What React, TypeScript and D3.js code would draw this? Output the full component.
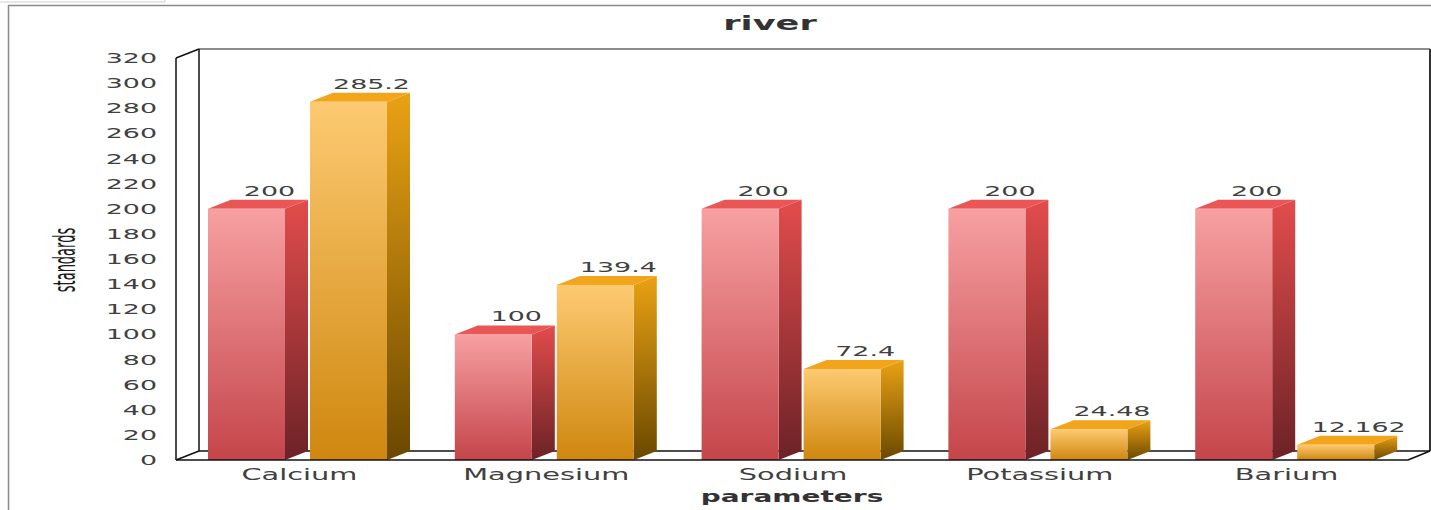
import React from "react";
import * as d3 from "d3";

const title = "river";
const xAxisTitle = "parameters";
const yAxisTitle = "standards";
const categories = ["Calcium", "Magnesium", "Sodium", "Potassium", "Barium"];
const seriesNames = ["standards", "river"];
const standardValues = [200, 100, 200, 200, 200];
const riverValues = [285.2, 139.4, 72.4, 24.48, 12.162];
const valueLabels = [
  ["200", "100", "200", "200", "200"],
  ["285.2", "139.4", "72.4", "24.48", "12.162"],
];
const yTicks = [0, 20, 40, 60, 80, 100, 120, 140, 160, 180, 200, 220, 240, 260, 280, 300, 320];

const W = 1431;
const H = 510;
const FL = 176; // front left of plot
const FR = 1408; // front right of floor
const FB = 460; // front bottom
const FT = 58; // front top
const DX = 23;
const DY = -9;
const SX = 1.92; // horizontal text stretch
const FONT = "'DejaVu Sans', Verdana, sans-serif";

const seriesData = [standardValues, riverValues];
const palettes = [
  { front: ["#f7a0a2", "#c4454a"], side: ["#e24c4c", "#6c2226"], top: "#ea5656" },
  { front: ["#fdca72", "#cf870e"], side: ["#eaa214", "#6a4800"], top: "#f2a51a" },
];

export default function App() {
  const y = d3.scaleLinear().domain([0, 320]).range([FB, FT]);
  const x0 = d3.scaleBand<string>().domain(categories).range([FL, 1410]).paddingInner(0).paddingOuter(0);
  const x1 = d3.scaleBand<string>().domain(seriesNames).range([32, 211]).paddingInner(0.245).paddingOuter(0);
  const w = x1.bandwidth();
  const textColor = "#404040";

  return (
    <svg width={W} height={H} style={{ position: "absolute", left: 0, top: 0, display: "block", background: "#fff" }}>
      <defs>
        {palettes.map((p, i) => (
          <React.Fragment key={i}>
            <linearGradient id={`front${i}`} x1="0" y1="0" x2="0" y2="1">
              <stop offset="0" stopColor={p.front[0]} />
              <stop offset="1" stopColor={p.front[1]} />
            </linearGradient>
            <linearGradient id={`side${i}`} x1="0" y1="0" x2="0" y2="1">
              <stop offset="0" stopColor={p.side[0]} />
              <stop offset="1" stopColor={p.side[1]} />
            </linearGradient>
          </React.Fragment>
        ))}
      </defs>

      {/* outer frame */}
      <line x1={0} y1={2} x2={165} y2={2} stroke="#cfcfcf" strokeWidth={1} />
      <line x1={165} y1={0} x2={165} y2={2} stroke="#cfcfcf" strokeWidth={1} />
      <line x1={8} y1={5.5} x2={W} y2={5.5} stroke="#8a8a8a" strokeWidth={1.5} />
      <line x1={8.5} y1={5} x2={8.5} y2={H} stroke="#8a8a8a" strokeWidth={1.5} />

      {/* title */}
      <text
        transform={`translate(770,30) scale(1.85,1)`}
        textAnchor="middle"
        fontFamily={FONT}
        fontWeight="bold"
        fontSize={19}
        fill="#333"
      >
        {title}
      </text>

      {/* walls */}
      <line x1={FL + DX} y1={FT + DY} x2={W - 1} y2={FT + DY} stroke="#666" strokeWidth={1.5} />
      <line x1={W - 1} y1={FT + DY} x2={W - 1} y2={FB + DY} stroke="#333" strokeWidth={2} />
      <line x1={FL + DX} y1={FT + DY} x2={FL + DX} y2={FB + DY} stroke="#111" strokeWidth={1.5} />
      <line x1={FL} y1={FT} x2={FL} y2={FB} stroke="#111" strokeWidth={1.5} />
      <line x1={FL} y1={FT} x2={FL + DX} y2={FT + DY} stroke="#111" strokeWidth={1.5} />
      <line x1={FL} y1={FB} x2={FL + DX} y2={FB + DY} stroke="#111" strokeWidth={1.5} />
      <line x1={FL + DX} y1={FB + DY} x2={W - 1} y2={FB + DY} stroke="#111" strokeWidth={1.5} />
      <line x1={FR} y1={FB} x2={W - 1} y2={FB + DY} stroke="#111" strokeWidth={1.5} />

      {/* y tick labels */}
      {yTicks.map((t) => (
        <text
          key={t}
          transform={`translate(157,${y(t) + 5}) scale(${SX},1)`}
          textAnchor="end"
          fontFamily={FONT}
          fontSize={14}
          fill={textColor}
        >
          {t}
        </text>
      ))}

      {/* y axis title */}
      <text
        transform={`translate(75,260) scale(2.3,1) rotate(-90)`}
        textAnchor="middle"
        fontFamily={FONT}
        fontSize={13}
        fill="#1a1a1a"
      >
        {yAxisTitle}
      </text>

      {/* bars */}
      {categories.map((c, ci) =>
        seriesNames.map((s, si) => {
          const v = seriesData[si][ci];
          const x = (x0(c) as number) + (x1(s) as number);
          const yt = y(v);
          const yb = y(0);
          const side = `${x + w},${yt} ${x + w + DX},${yt + DY} ${x + w + DX},${yb + DY} ${x + w},${yb}`;
          const top = `${x},${yt} ${x + DX},${yt + DY} ${x + w + DX},${yt + DY} ${x + w},${yt}`;
          return (
            <g key={`${c}-${s}`}>
              <polygon points={side} fill={`url(#side${si})`} />
              <polygon points={top} fill={palettes[si].top} />
              <rect x={x} y={yt} width={w} height={yb - yt} fill={`url(#front${si})`} />
              <text
                transform={`translate(${x + w / 2 + DX},${yt + DY - 4}) scale(${SX},1)`}
                textAnchor="middle"
                fontFamily={FONT}
                fontSize={14}
                fill={textColor}
              >
                {valueLabels[si][ci]}
              </text>
            </g>
          );
        })
      )}

      {/* front floor edge */}
      <line x1={FL} y1={FB} x2={FR} y2={FB} stroke="#111" strokeWidth={1.5} />

      {/* category labels */}
      {categories.map((c) => (
        <text
          key={c}
          transform={`translate(${(x0(c) as number) + x0.bandwidth() / 2},480) scale(${SX},1)`}
          textAnchor="middle"
          fontFamily={FONT}
          fontSize={15}
          fill={textColor}
        >
          {c}
        </text>
      ))}

      {/* x axis title */}
      <text
        transform={`translate(${(FL + FR) / 2},502) scale(1.75,1)`}
        textAnchor="middle"
        fontFamily={FONT}
        fontWeight="bold"
        fontSize={16}
        fill="#333"
      >
        {xAxisTitle}
      </text>
    </svg>
  );
}
